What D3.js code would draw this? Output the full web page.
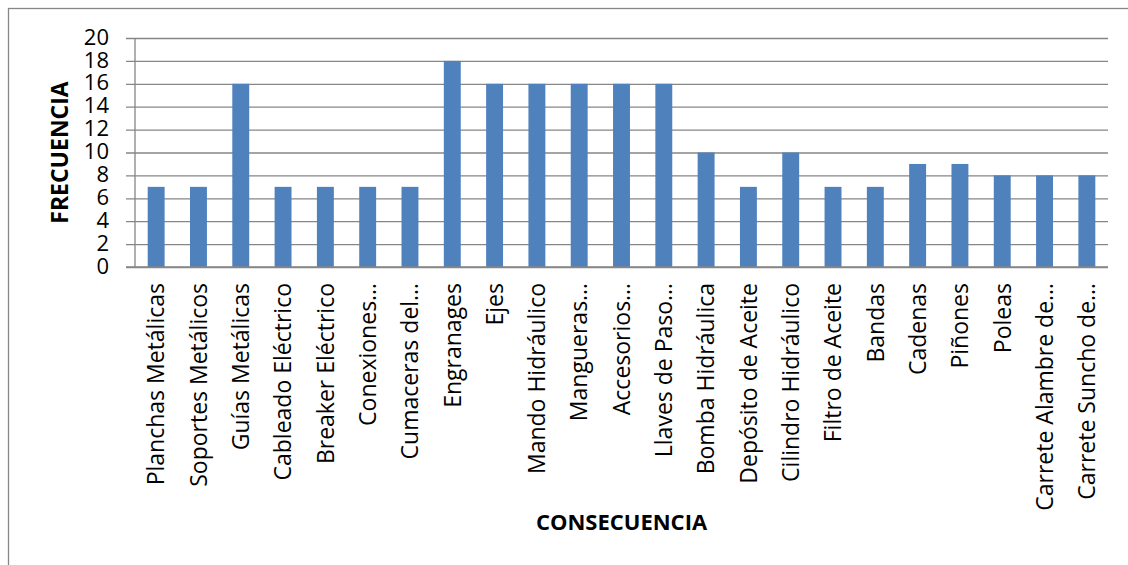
<!DOCTYPE html>
<html>
<head>
<meta charset="utf-8">
<script src="https://cdn.jsdelivr.net/npm/d3@7"></script>
<style>
  html, body { margin: 0; padding: 0; background: #fff; }
  svg { display: block; }
  text { font-family: "Open Sans", Lato, sans-serif; fill: #000; }
</style>
</head>
<body>
<script>
// Categories (as labelled on the axis) and their frequencies
const categories = [
  "Planchas Metálicas", "Soportes Metálicos", "Guías Metálicas", "Cableado Eléctrico",
  "Breaker Eléctrico", "Conexiones…", "Cumaceras del…", "Engranages", "Ejes",
  "Mando Hidráulico", "Mangueras…", "Accesorios…", "Llaves de Paso…", "Bomba Hidráulica",
  "Depósito de Aceite", "Cilindro Hidráulico", "Filtro de Aceite", "Bandas", "Cadenas",
  "Piñones", "Poleas", "Carrete Alambre de…", "Carrete Suncho de…"
];
const frecuencia = [7, 7, 16, 7, 7, 7, 7, 18, 16, 16, 16, 16, 16, 10, 7, 10, 7, 7, 9, 9, 8, 8, 8];
const yTicks = [0, 2, 4, 6, 8, 10, 12, 14, 16, 18, 20];
const yTitle = "FRECUENCIA";
const xTitle = "CONSECUENCIA";

const W = 1128, H = 565;
const plot = { left: 135, right: 1108, top: 38, bottom: 267 };
const gridColor = "#868686";
const barColor = "#4F81BD";

const svg = d3.select("body").append("svg").attr("width", W).attr("height", H);

// chart frame
svg.append("rect")
  .attr("x", 8.5).attr("y", 8.5).attr("width", W + 10).attr("height", H + 10)
  .attr("fill", "#fff").attr("stroke", gridColor).attr("stroke-width", 1.3);

const x = d3.scaleBand().domain(categories).range([plot.left, plot.right]).paddingInner(0.6).paddingOuter(0.3);
const y = d3.scaleLinear().domain([0, 20]).range([plot.bottom, plot.top]);

// horizontal gridlines with tick stubs on the left
const yAxis = d3.axisLeft(y).tickValues(yTicks).tickSize(-(plot.right - plot.left)).tickPadding(0).tickFormat("");
const gy = svg.append("g").attr("transform", `translate(${plot.left},0)`).call(yAxis);
gy.select(".domain").remove();
gy.selectAll(".tick line").attr("stroke", gridColor).attr("stroke-width", 1.3).attr("x1", -9);

// y tick labels
svg.append("g").selectAll("text").data(yTicks).join("text")
  .attr("x", 109).attr("y", d => y(d))
  .attr("dy", "0.3em")
  .attr("text-anchor", "end")
  .style("font-size", "22px")
  .text(d => d);

// bars
svg.append("g").selectAll("rect").data(categories).join("rect")
  .attr("x", d => x(d))
  .attr("width", x.bandwidth())
  .attr("y", (d, i) => y(frecuencia[i]))
  .attr("height", (d, i) => y(0) - y(frecuencia[i]))
  .attr("fill", barColor);

// axes lines
svg.append("line").attr("x1", plot.left).attr("x2", plot.left).attr("y1", plot.top).attr("y2", plot.bottom)
  .attr("stroke", gridColor).attr("stroke-width", 1.3);
svg.append("line").attr("x1", plot.left - 9).attr("x2", plot.right).attr("y1", plot.bottom).attr("y2", plot.bottom)
  .attr("stroke", gridColor).attr("stroke-width", 1.3);

// rotated category labels
svg.append("g").selectAll("text").data(categories).join("text")
  .attr("transform", d => `translate(${x(d) + x.bandwidth() / 2},283) rotate(-90)`)
  .attr("dy", "0.36em")
  .attr("text-anchor", "end")
  .style("font-size", "23px")
  .text(d => d);

// axis titles
svg.append("text")
  .attr("transform", `translate(60,${(plot.top + plot.bottom) / 2}) rotate(-90)`)
  .attr("dy", "0.36em")
  .attr("text-anchor", "middle")
  .style("font-size", "23px").style("font-weight", "bold")
  .text(yTitle);

svg.append("text")
  .attr("x", (plot.left + plot.right) / 2).attr("y", 530)
  .attr("text-anchor", "middle")
  .style("font-size", "22px").style("font-weight", "bold")
  .text(xTitle);
</script>
</body>
</html>
